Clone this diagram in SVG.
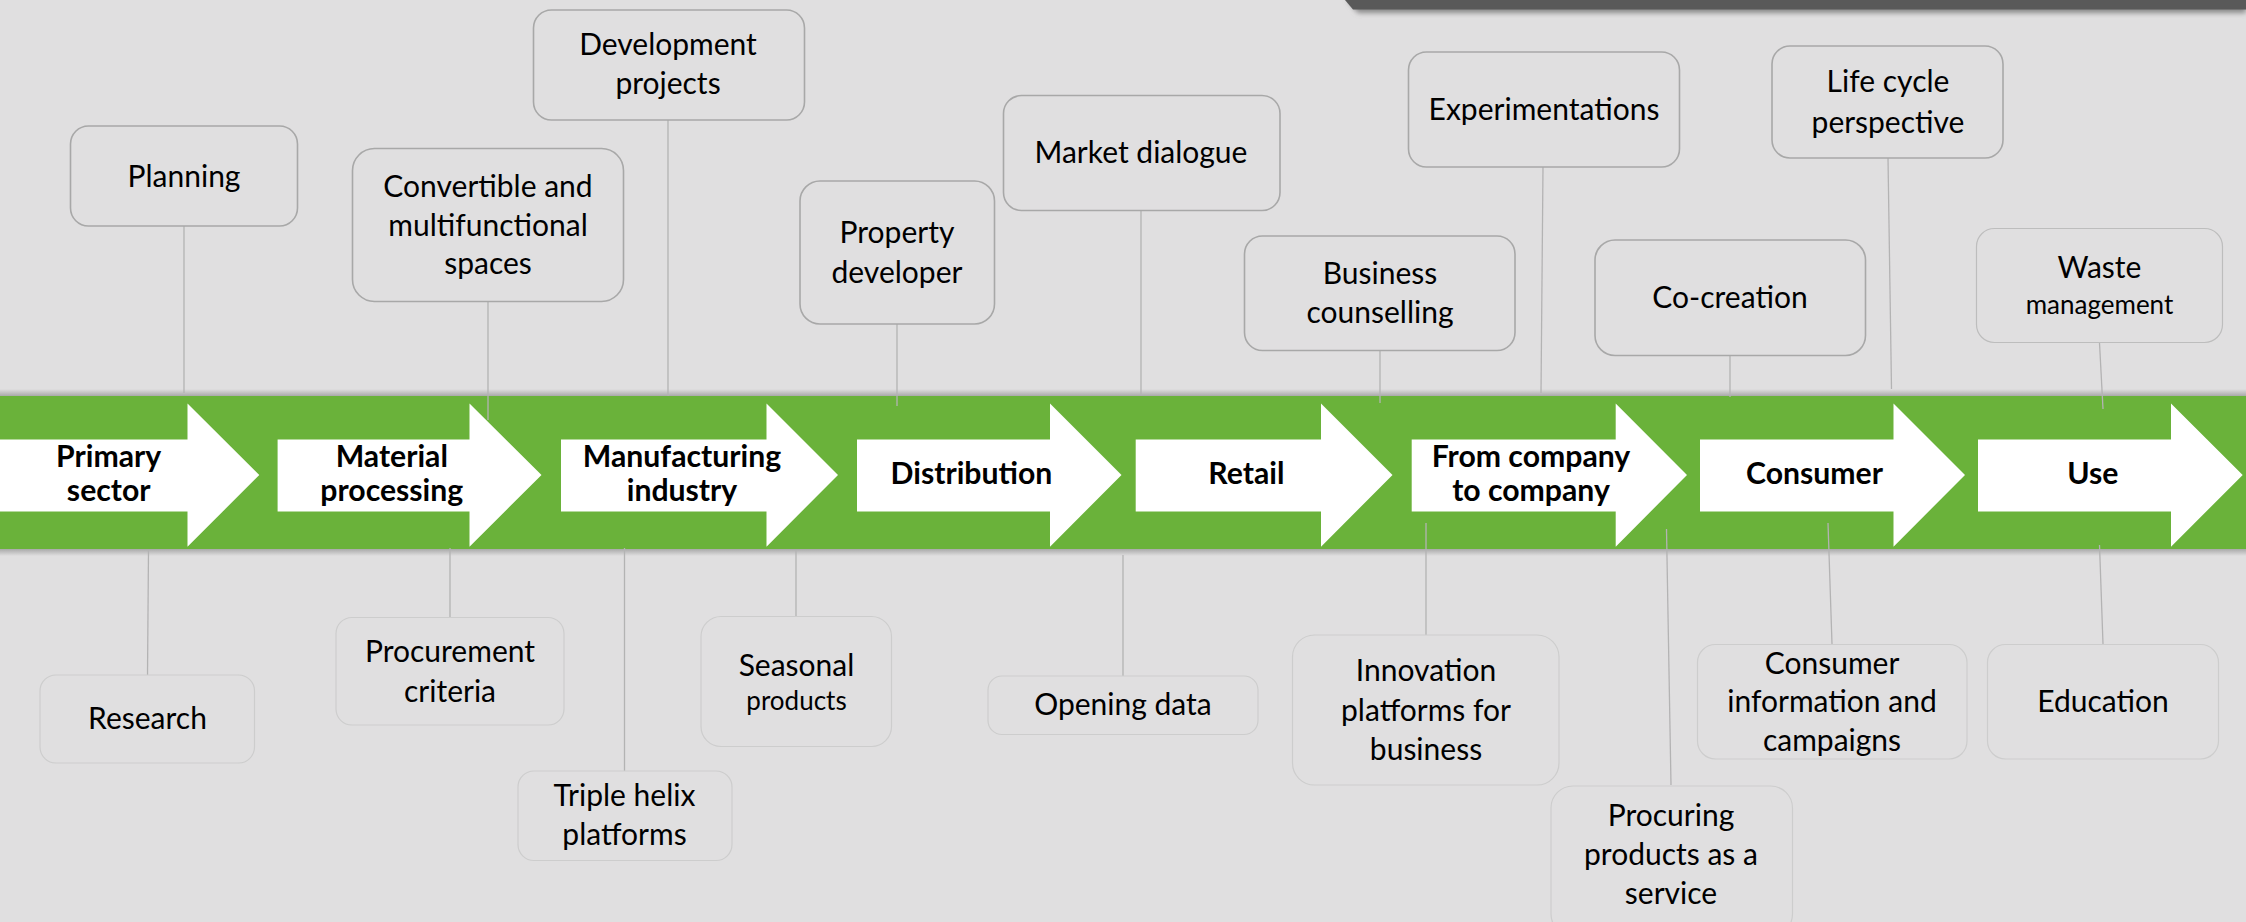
<svg xmlns="http://www.w3.org/2000/svg" width="2246" height="922" viewBox="0 0 2246 922">
<defs>
<style>
.bg{fill:#e0dfe0}
.box{fill:#e0dfe0;stroke:#a8a8a8;stroke-width:1.6}
.boxl{fill:#e0dfe0;stroke:#cdcdcd;stroke-width:1.2}
.t{font-family:Lato,"Liberation Sans",sans-serif;font-size:30px;fill:#000;text-anchor:middle}
.s{font-size:26px}
.b{font-family:Lato,"Liberation Sans",sans-serif;font-size:30.2px;font-weight:bold;fill:#000;text-anchor:middle}
.c{stroke:#b3b3b3;stroke-width:1.3;fill:none}
.arr{fill:#fff}
</style>
<linearGradient id="shTop" x1="0" y1="0" x2="0" y2="1">
<stop offset="0" stop-color="#e0dfe0"/>
<stop offset="1" stop-color="#a9a9a9"/>
</linearGradient>
<linearGradient id="shBot" x1="0" y1="0" x2="0" y2="1">
<stop offset="0" stop-color="#a9a9a9"/>
<stop offset="1" stop-color="#e0dfe0"/>
</linearGradient>
<filter id="blur" x="-5%" y="-100%" width="110%" height="400%">
<feGaussianBlur stdDeviation="2.5"/>
</filter>
</defs>
<rect class="bg" x="0" y="0" width="2246" height="922"/>
<g id="corner-bar">
<polygon points="1347,0 2246,0 2246,13 1358,13" fill="#8a8a8a" filter="url(#blur)"/>
<polygon points="1345,0 2246,0 2246,9.5 1353,9.5" fill="#595959"/>
</g>
<g id="band">
<rect x="0" y="389" width="2246" height="7" fill="url(#shTop)"/>
<rect x="0" y="549" width="2246" height="7" fill="url(#shBot)"/>
<rect x="0" y="396" width="2246" height="153" fill="#6ab23a"/>
</g>
<g id="connectors">
<line class="c" x1="184" y1="226" x2="184" y2="393"/>
<line class="c" x1="488" y1="302" x2="488" y2="420"/>
<line class="c" x1="668" y1="120" x2="668" y2="396"/>
<line class="c" x1="897" y1="324" x2="897" y2="406"/>
<line class="c" x1="1141" y1="211" x2="1141" y2="395"/>
<line class="c" x1="1380" y1="351" x2="1380" y2="403"/>
<line class="c" x1="1543" y1="167" x2="1541" y2="393"/>
<line class="c" x1="1730" y1="355" x2="1730" y2="397"/>
<line class="c" x1="1888" y1="158" x2="1891.5" y2="389"/>
<line class="c" x1="2099.5" y1="343" x2="2103" y2="409"/>
<line class="c" x1="148.5" y1="550" x2="147.5" y2="675"/>
<line class="c" x1="450" y1="548" x2="450" y2="617"/>
<line class="c" x1="624.5" y1="548" x2="624.5" y2="771"/>
<line class="c" x1="796" y1="550" x2="796" y2="616"/>
<line class="c" x1="1123" y1="555" x2="1123" y2="676"/>
<line class="c" x1="1426" y1="523" x2="1426" y2="635"/>
<line class="c" x1="1666.5" y1="529" x2="1671" y2="785"/>
<line class="c" x1="1828" y1="523" x2="1832" y2="644"/>
<line class="c" x1="2099.5" y1="545" x2="2103" y2="644"/>
</g>
<g id="stage-primary">
<polygon class="arr" points="-3,439.5 187.5,439.5 187.5,403.5 259.3,475 187.5,546.7 187.5,511.5 -3,511.5"/>
<text class="b" x="108.7" y="466.5">Primary</text>
<text class="b" x="108.7" y="501">sector</text>
</g>
<g id="stage-material">
<polygon class="arr" points="277.6,439.5 469.5,439.5 469.5,403.5 541.5,475 469.5,546.7 469.5,511.5 277.6,511.5"/>
<text class="b" x="391.8" y="466.5">Material</text>
<text class="b" x="391.8" y="501">processing</text>
</g>
<g id="stage-manufacturing">
<polygon class="arr" points="561,439.5 766.5,439.5 766.5,403.5 838,475 766.5,546.7 766.5,511.5 561,511.5"/>
<text class="b" x="682" y="466.5">Manufacturing</text>
<text class="b" x="682" y="501">industry</text>
</g>
<g id="stage-distribution">
<polygon class="arr" points="857,439.5 1050,439.5 1050,403.5 1121.5,475 1050,546.7 1050,511.5 857,511.5"/>
<text class="b" x="971.4" y="484">Distribution</text>
</g>
<g id="stage-retail">
<polygon class="arr" points="1135.7,439.5 1321,439.5 1321,403.5 1392.5,475 1321,546.7 1321,511.5 1135.7,511.5"/>
<text class="b" x="1246.4" y="484">Retail</text>
</g>
<g id="stage-b2b">
<polygon class="arr" points="1411.7,439.5 1615.7,439.5 1615.7,403.5 1687,475 1615.7,546.7 1615.7,511.5 1411.7,511.5"/>
<text class="b" x="1531" y="466.5">From company</text>
<text class="b" x="1531" y="501">to company</text>
</g>
<g id="stage-consumer">
<polygon class="arr" points="1700,439.5 1893.5,439.5 1893.5,403.5 1965,475 1893.5,546.7 1893.5,511.5 1700,511.5"/>
<text class="b" x="1814.5" y="484">Consumer</text>
</g>
<g id="stage-use">
<polygon class="arr" points="1978,439.5 2171,439.5 2171,403.5 2242.7,475 2171,546.7 2171,511.5 1978,511.5"/>
<text class="b" x="2092.8" y="484">Use</text>
</g>
<g id="planning">
<rect class="box" x="70.5" y="126" width="227" height="100" rx="18"/>
<text class="t" x="184" y="187">Planning</text>
</g>
<g id="convertible">
<rect class="box" x="352.5" y="148.5" width="271" height="153" rx="22"/>
<text class="t" x="488" y="197">Convertible and</text>
<text class="t" x="488" y="235.5">multifunctional</text>
<text class="t" x="488" y="274">spaces</text>
</g>
<g id="development">
<rect class="box" x="533.5" y="10" width="271" height="110" rx="18"/>
<text class="t" x="668" y="55">Development</text>
<text class="t" x="668" y="94">projects</text>
</g>
<g id="property-developer">
<rect class="box" x="800" y="181" width="194.5" height="143" rx="20"/>
<text class="t" x="897" y="243">Property</text>
<text class="t" x="897" y="283">developer</text>
</g>
<g id="market-dialogue">
<rect class="box" x="1003.5" y="95.5" width="276.5" height="115" rx="18"/>
<text class="t" x="1141" y="163">Market dialogue</text>
</g>
<g id="business-counselling">
<rect class="box" x="1244.5" y="236" width="270.5" height="114.5" rx="18"/>
<text class="t" x="1380" y="284">Business</text>
<text class="t" x="1380" y="323">counselling</text>
</g>
<g id="experimentations">
<rect class="box" x="1408.5" y="52" width="271" height="115" rx="18"/>
<text class="t" x="1544" y="120">Experimentations</text>
</g>
<g id="co-creation">
<rect class="box" x="1595" y="240" width="270.5" height="115.5" rx="20"/>
<text class="t" x="1730" y="308">Co-creation</text>
</g>
<g id="life-cycle">
<rect class="box" x="1772" y="46" width="231" height="112" rx="18"/>
<text class="t" x="1888" y="92">Life cycle</text>
<text class="t" x="1888" y="133">perspective</text>
</g>
<g id="waste-management">
<rect class="boxl" x="1976.5" y="228.5" width="246" height="114" rx="18" style="stroke:#bdbdbd"/>
<text class="t" x="2099.5" y="278">Waste</text>
<text class="t s" x="2099.5" y="314">management</text>
</g>
<g id="research">
<rect class="boxl" x="40" y="675" width="214.5" height="88" rx="16"/>
<text class="t" x="147.5" y="729">Research</text>
</g>
<g id="procurement-criteria">
<rect class="boxl" x="336" y="617.5" width="228" height="107.5" rx="16"/>
<text class="t" x="450" y="661.5">Procurement</text>
<text class="t" x="450" y="701.5">criteria</text>
</g>
<g id="triple-helix">
<rect class="boxl" x="518" y="771" width="214" height="89.5" rx="16"/>
<text class="t" x="624.5" y="806">Triple helix</text>
<text class="t" x="624.5" y="845">platforms</text>
</g>
<g id="seasonal-products">
<rect class="boxl" x="701" y="616.5" width="190.5" height="130" rx="20"/>
<text class="t" x="796.5" y="675.5">Seasonal</text>
<text class="t s" x="796.5" y="710">products</text>
</g>
<g id="opening-data">
<rect class="boxl" x="988" y="676" width="270" height="58.5" rx="14"/>
<text class="t" x="1123" y="715">Opening data</text>
</g>
<g id="innovation-platforms">
<rect class="boxl" x="1292.5" y="635" width="266.5" height="150" rx="22"/>
<text class="t" x="1426" y="680.5">Innovation</text>
<text class="t" x="1426" y="720.5">platforms for</text>
<text class="t" x="1426" y="760">business</text>
</g>
<g id="procuring-products">
<rect class="boxl" x="1551" y="786" width="241.5" height="150" rx="22"/>
<text class="t" x="1671" y="826">Procuring</text>
<text class="t" x="1671" y="864.5">products as a</text>
<text class="t" x="1671" y="903.5">service</text>
</g>
<g id="consumer-information">
<rect class="boxl" x="1697.5" y="644.5" width="269.5" height="114.5" rx="18"/>
<text class="t" x="1832" y="674">Consumer</text>
<text class="t" x="1832" y="712">information and</text>
<text class="t" x="1832" y="750.5">campaigns</text>
</g>
<g id="education">
<rect class="boxl" x="1987.5" y="644.5" width="231" height="114.5" rx="18"/>
<text class="t" x="2103" y="712">Education</text>
</g>
</svg>
